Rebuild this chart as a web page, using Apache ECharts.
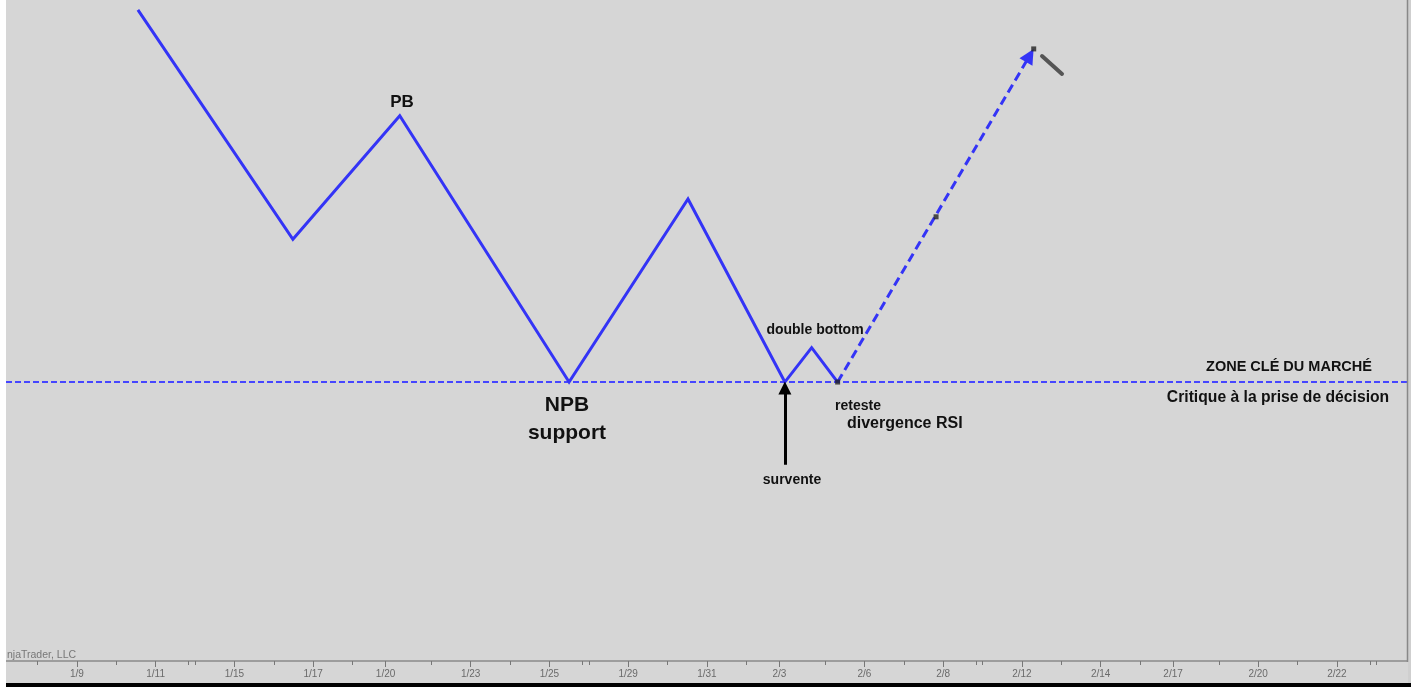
<!DOCTYPE html>
<html>
<head>
<meta charset="utf-8">
<script src="https://cdn.jsdelivr.net/npm/echarts@6/dist/echarts.min.js"></script>
<style>
  html, body { margin: 0; padding: 0; width: 100%; height: 100%; background: #fff; }
  #chart { width: 1411px; height: 687px; }
</style>
</head>
<body>
<div id="chart"></div>
<script>
// axis: positions are in "label slots", one slot per dated tick
const tickLabels = ['1/9', '1/11', '1/15', '1/17', '1/20', '1/23', '1/25', '1/29', '1/31',
  '2/3', '2/6', '2/8', '2/12', '2/14', '2/17', '2/20', '2/22'];
const tickPos = [0, 1, 2, 3, 3.92, 5, 6, 7, 8, 8.92, 10, 11, 12, 13, 13.92, 15, 16];
const minorPos = [-0.5, 0.5, 1.42, 1.5, 2.5, 3.5, 4.5, 5.5, 6.42, 6.5, 7.5, 8.5, 9.5,
  10.5, 11.42, 11.5, 12.5, 13.5, 14.5, 15.5, 16.42, 16.5];

// swing path (solid)
const pathX = [0.775, 2.743, 4.10, 6.25, 7.76, 8.99, 9.33, 9.66];
const pathY = [98.5, 63.8, 82.5, 42.2, 69.9, 42.2, 47.4, 42.2];

// projected move (dashed arrow)
const projX = [9.66, 12.10];
const projY = [42.2, 91.6];

// small black markers along the projection
const dotX = [9.66, 10.91, 12.15];
const dotY = [42.2, 67.2, 92.6];

// key level (zone clé)
const keyLevel = 42.2;

// survente arrow
const oversoldX = [8.99, 8.99];
const oversoldY = [29.7, 41.3];

const BLUE = '#3434f6';
const FONT = "'Liberation Sans', Arial, sans-serif";

const chart = echarts.init(document.getElementById('chart'));

const labelOf = v => {
  const i = tickPos.findIndex(p => Math.abs(p - v) < 1e-6);
  return i >= 0 ? tickLabels[i] : '';
};

const txt = (x, y, text, size, align, weight) => ({
  type: 'text', x: x, y: y, z: 50,
  style: {
    text: text, fill: '#111', font: (weight || 'bold') + ' ' + size + 'px ' + FONT,
    textAlign: align || 'center', textVerticalAlign: 'middle'
  }
});

const option = {
  animation: false,
  backgroundColor: '#d6d6d6',
  grid: { left: 6, right: 4, top: 0, bottom: 26, outerBoundsMode: 'none' },
  xAxis: [
    {
      type: 'value', min: -0.9, max: 16.89,
      splitLine: { show: false },
      axisLine: { show: true, lineStyle: { color: '#8a8a8a', width: 1.5 } },
      axisTick: { show: true, customValues: tickPos, length: 6, lineStyle: { color: '#777', width: 1 } },
      axisLabel: {
        show: true, customValues: tickPos, formatter: labelOf,
        color: '#6a6a6a', fontSize: 10, fontFamily: FONT, margin: 8
      }
    },
    {
      type: 'value', min: -0.9, max: 16.89, position: 'bottom',
      splitLine: { show: false },
      axisLine: { show: false },
      axisTick: { show: true, customValues: minorPos, length: 4, lineStyle: { color: '#777', width: 1 } },
      axisLabel: { show: false }
    }
  ],
  yAxis: { type: 'value', min: 0, max: 100, show: false, splitLine: { show: false } },
  series: [
    {
      type: 'line',
      data: pathX.map((x, i) => [x, pathY[i]]),
      symbol: 'none',
      lineStyle: { color: BLUE, width: 3, join: 'miter' },
      z: 5,
      markLine: {
        silent: true, symbol: 'none', label: { show: false },
        lineStyle: { color: '#4646ff', width: 2, type: [6, 3] },
        data: [{ yAxis: keyLevel }]
      }
    },
    {
      type: 'lines', coordinateSystem: 'cartesian2d',
      symbol: ['none', 'triangle'], symbolSize: [0, 15],
      lineStyle: { color: BLUE, width: 3, type: [9, 5], opacity: 1 },
      data: [{ coords: projX.map((x, i) => [x, projY[i]]) }],
      z: 5
    },
    {
      type: 'lines', coordinateSystem: 'cartesian2d',
      symbol: ['none', 'triangle'], symbolSize: [0, 13],
      lineStyle: { color: '#000', width: 3, opacity: 1 },
      data: [{ coords: oversoldX.map((x, i) => [x, oversoldY[i]]) }],
      z: 6
    },
    {
      type: 'scatter',
      data: dotX.map((x, i) => [x, dotY[i]]),
      symbol: 'rect', symbolSize: 5,
      itemStyle: { color: '#222' },
      z: 7
    }
  ],
  graphic: [
    { type: 'rect', shape: { x: 0, y: 0, width: 6, height: 687 }, style: { fill: '#fff' }, z: 40 },
    { type: 'rect', shape: { x: 6, y: 683, width: 1405, height: 4 }, style: { fill: '#000' }, z: 40 },
    { type: 'rect', shape: { x: 1408, y: 0, width: 3, height: 683 }, style: { fill: '#cfcfcf' }, z: 40 },
    { type: 'line', shape: { x1: 1407.5, y1: 0, x2: 1407.5, y2: 662 }, style: { stroke: '#888', lineWidth: 1.5 }, z: 41 },
    { type: 'line', shape: { x1: 1042, y1: 56, x2: 1062, y2: 74 }, style: { stroke: '#555', lineWidth: 4, lineCap: 'round' }, z: 41 },
    txt(402, 102, 'PB', 17),
    txt(567, 405, 'NPB', 21),
    txt(567, 433, 'support', 21),
    txt(815, 330, 'double bottom', 14),
    txt(835, 406, 'reteste', 14, 'left'),
    txt(847, 424, 'divergence RSI', 16, 'left'),
    txt(792, 480, 'survente', 14),
    txt(1289, 367, 'ZONE CLÉ DU MARCHÉ', 14.5),
    txt(1278, 398, 'Critique à la prise de décision', 15.7),
    txt(7, 655, 'njaTrader, LLC', 10.5, 'left', 'normal')
  ]
};
option.graphic[option.graphic.length - 1].style.fill = '#777';

chart.setOption(option);
</script>
</body>
</html>
